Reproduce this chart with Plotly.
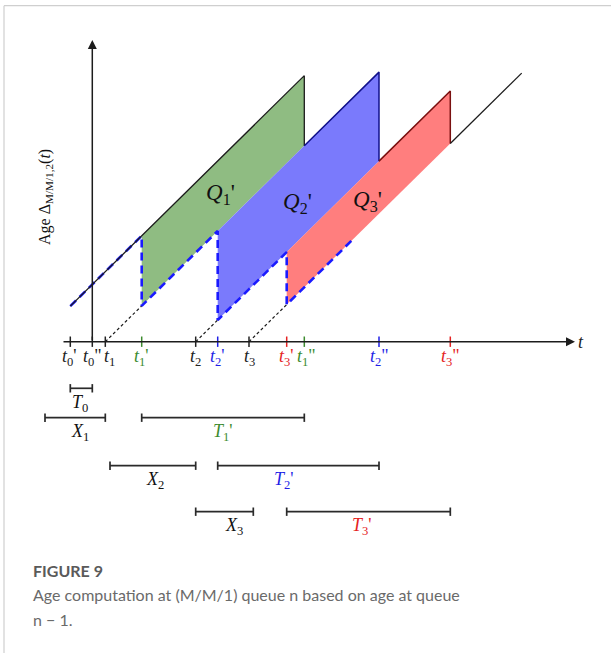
import plotly.graph_objects as go

W, H = 611, 653

# ---------------- data (time units / age units) ----------------
tick_labels = ["t0'", 't0"', "t1", "t1'", "t2", "t2'", "t3", "t3'", 't1"', 't2"', 't3"']
t0p, t0pp = -2.2, 0.0                 # t0', t0''
t_gen = [1.3, 10.34, 15.67]           # t1, t2, t3
t_arr = [4.94, 12.54, 19.44]          # t1', t2', t3'
t_dep = [21.2, 28.67, 35.8]           # t1'', t2'', t3''
g0 = -5.81                            # generation time of packet served before t0'
t_end = 42.94                         # end of drawn age curve
blue_end = 26.1                       # end of dashed queue n-1 age
x_starts = [-4.73, 1.77, 10.34]       # X1, X2, X3 starts
x_ends = [1.3, 10.34, 16.1]           # X1, X2, X3 ends

# ---------------- layout helpers (pixel -> data) ----------------
X0PX, XS = 92.3, 10.0
Y0PX, YS = 341.7, 9.85
def dx(px): return (px - X0PX) / XS
def dy(py): return (Y0PX - py) / YS

GREEN_FILL = "rgb(143,188,130)"
BLUE_FILL = "rgb(122,122,252)"
RED_FILL = "rgb(255,126,126)"
GREEN_TXT = "#3d8b2f"
BLUE_TXT = "#1f1fe6"
RED_TXT = "#e52222"
SERIF = "Liberation Serif"

def age(t, g):
    return t - g

fig = go.Figure()

def seg_trace(xs, ys, color, width, dash="solid"):
    fig.add_trace(go.Scatter(x=xs, y=ys, mode="lines",
                             line=dict(color=color, width=width, dash=dash),
                             hoverinfo="skip", showlegend=False))

# filled regions Q1', Q2', Q3'
prev_g = [g0] + t_gen[:-1]
fills = [GREEN_FILL, BLUE_FILL, RED_FILL]
for i in range(3):
    a, d = t_arr[i], t_dep[i]
    gu, gl = prev_g[i], t_gen[i]
    fig.add_trace(go.Scatter(
        x=[a, d, d, a, a],
        y=[age(a, gu), age(d, gu), age(d, gl), age(a, gl), age(a, gu)],
        mode="lines", fill="toself", fillcolor=fills[i],
        line=dict(width=0, color=fills[i]), hoverinfo="skip", showlegend=False))

# dotted lines from generation times to arrival
xs, ys = [], []
for g, a in zip(t_gen, t_arr):
    xs += [g, a, None]
    ys += [0, age(a, g), None]
seg_trace(xs, ys, "#1a1a1a", 1.2, "3px,2.5px")

# dashed blue: age at queue n-1
bx = [t0p, t_arr[0]]
by = [age(t0p, g0), age(t_arr[0], g0)]
for i in range(3):
    a = t_arr[i]
    nxt = t_arr[i + 1] if i < 2 else blue_end
    bx += [a, nxt]
    by += [age(a, t_gen[i]), age(nxt, t_gen[i])]
seg_trace(bx, by, "#1a1aff", 2.6, "8px,5px")

# age at queue n (solid sawtooth)
seg_trace([t0p, t_dep[0], t_dep[0]],
          [age(t0p, g0), age(t_dep[0], g0), age(t_dep[0], t_gen[0])], "#1c1c1c", 1.3)
seg_trace([t_dep[0], t_dep[1], t_dep[1]],
          [age(t_dep[0], t_gen[0]), age(t_dep[1], t_gen[0]), age(t_dep[1], t_gen[1])], "#10108a", 1.5)
seg_trace([t_dep[1], t_dep[2], t_dep[2]],
          [age(t_dep[1], t_gen[1]), age(t_dep[2], t_gen[1]), age(t_dep[2], t_gen[2])], "#7a1010", 1.5)
seg_trace([t_dep[2], t_end], [age(t_dep[2], t_gen[2]), age(t_end, t_gen[2])], "#1c1c1c", 1.3)

# axis ticks
tick_times = [t0p, t0pp, t_gen[0], t_arr[0], t_gen[1], t_arr[1], t_gen[2], t_arr[2],
              t_dep[0], t_dep[1], t_dep[2]]
tick_colors = ["#222", "#222", "#222", GREEN_TXT, "#222", BLUE_TXT, "#222", RED_TXT,
               GREEN_TXT, BLUE_TXT, RED_TXT]
th = dy(336.5)
for tt, c in zip(tick_times, tick_colors):
    seg_trace([tt, tt], [-th, th], c, 1.5)

annotations = []
# axes arrows
annotations.append(dict(x=dx(575), y=0, ax=dx(62), ay=0, xref="x", yref="y", axref="x", ayref="y",
                        showarrow=True, arrowhead=2, arrowsize=1.2, arrowwidth=1.5,
                        arrowcolor="#1c1c1c", text=""))
annotations.append(dict(x=0, y=dy(40), ax=0, ay=0, xref="x", yref="y", axref="x", ayref="y",
                        showarrow=True, arrowhead=2, arrowsize=1.2, arrowwidth=1.5,
                        arrowcolor="#1c1c1c", text=""))

def tex(s):
    base = s[0]
    sub = s[1]
    prime = s[2:]
    return f"<i>{base}</i><sub>{sub}</sub>{prime}"

label_shift = [-1, 0, 4, 0, 0, 0, 0, 0, 2, 0, 0]
for name, tt, c, sh in zip(tick_labels, tick_times, tick_colors, label_shift):
    annotations.append(dict(x=tt, y=dy(357), xref="x", yref="y", text=tex(name),
                            showarrow=False, xshift=sh,
                            font=dict(family=SERIF, size=18, color=c)))
annotations.append(dict(x=dx(581), y=dy(342), xref="x", yref="y", text="<i>t</i>",
                        showarrow=False, font=dict(family=SERIF, size=18, color="#222")))

# Q labels
q_pos = [(220, 194), (297, 203), (367, 201)]
for i, (px, py) in enumerate(q_pos):
    annotations.append(dict(x=dx(px), y=dy(py), xref="x", yref="y",
                            text=f"<i>Q</i><sub>{i+1}</sub>'", showarrow=False,
                            font=dict(family=SERIF, size=23, color="#111")))

# y-axis label
annotations.append(dict(x=dx(45), y=dy(197), xref="x", yref="y",
                        text="Age Δ<sub>M/M/1,2</sub>(<i>t</i>)", textangle=-90,
                        showarrow=False, font=dict(family=SERIF, size=16, color="#111")))

# interval bars
rows = [388.3, 417.7, 465.7, 511.7]
bars = [
    (t0p, t0pp, rows[0], "<i>T</i><sub>0</sub>", "#111", 80),
    (x_starts[0], x_ends[0], rows[1], "<i>X</i><sub>1</sub>", "#111", 80),
    (t_arr[0], t_dep[0], rows[1], "<i>T</i><sub>1</sub>'", GREEN_TXT, 223),
    (x_starts[1], x_ends[1], rows[2], "<i>X</i><sub>2</sub>", "#111", 155),
    (t_arr[1], t_dep[1], rows[2], "<i>T</i><sub>2</sub>'", BLUE_TXT, 284),
    (x_starts[2], x_ends[2], rows[3], "<i>X</i><sub>3</sub>", "#111", 234),
    (t_arr[2], t_dep[2], rows[3], "<i>T</i><sub>3</sub>'", RED_TXT, 362),
]
bx, by = [], []
for a, b, py, lab, col, lx in bars:
    yc = dy(py)
    cap = 4.2 / YS
    bx += [a, b, None, a, a, None, b, b, None]
    by += [yc, yc, None, yc - cap, yc + cap, None, yc - cap, yc + cap, None]
    annotations.append(dict(x=dx(lx), y=dy(py + 15), xref="x", yref="y", text=lab,
                            showarrow=False, font=dict(family=SERIF, size=18, color=col)))
seg_trace(bx, by, "#2a2a2a", 1.7)

# caption
annotations.append(dict(x=31 / W, y=1 - 570 / H, xref="paper", yref="paper", xanchor="left",
                        yanchor="middle", text="<b>FIGURE 9</b>", showarrow=False,
                        font=dict(family="Lato", size=16, color="#5a5a5a")))
annotations.append(dict(x=31 / W, y=1 - 594 / H, xref="paper", yref="paper", xanchor="left",
                        yanchor="middle", text="Age computation at (M/M/1) queue n based on age at queue",
                        showarrow=False, font=dict(family="Lato", size=16, color="#6a6a6a")))
annotations.append(dict(x=31 / W, y=1 - 619 / H, xref="paper", yref="paper", xanchor="left",
                        yanchor="middle", text="n − 1.",
                        showarrow=False, font=dict(family="Lato", size=16, color="#6a6a6a")))

shapes = [
    dict(type="line", xref="paper", yref="paper", x0=4 / W, x1=1, y0=1 - 5.7 / H, y1=1 - 5.7 / H,
         line=dict(color="#cfcfcf", width=1.2)),
    dict(type="line", xref="paper", yref="paper", x0=4 / W, x1=4 / W, y0=0, y1=1 - 5.7 / H,
         line=dict(color="#cfcfcf", width=1.2)),
]

fig.update_layout(
    width=W, height=H, autosize=False,
    margin=dict(l=0, r=0, t=0, b=0, pad=0),
    paper_bgcolor="white", plot_bgcolor="white",
    xaxis=dict(range=[dx(0), dx(W)], visible=False, fixedrange=True),
    yaxis=dict(range=[dy(H), dy(0)], visible=False, fixedrange=True),
    annotations=annotations, shapes=shapes, showlegend=False,
)
fig.write_html("out.html", config={"displayModeBar": False})
